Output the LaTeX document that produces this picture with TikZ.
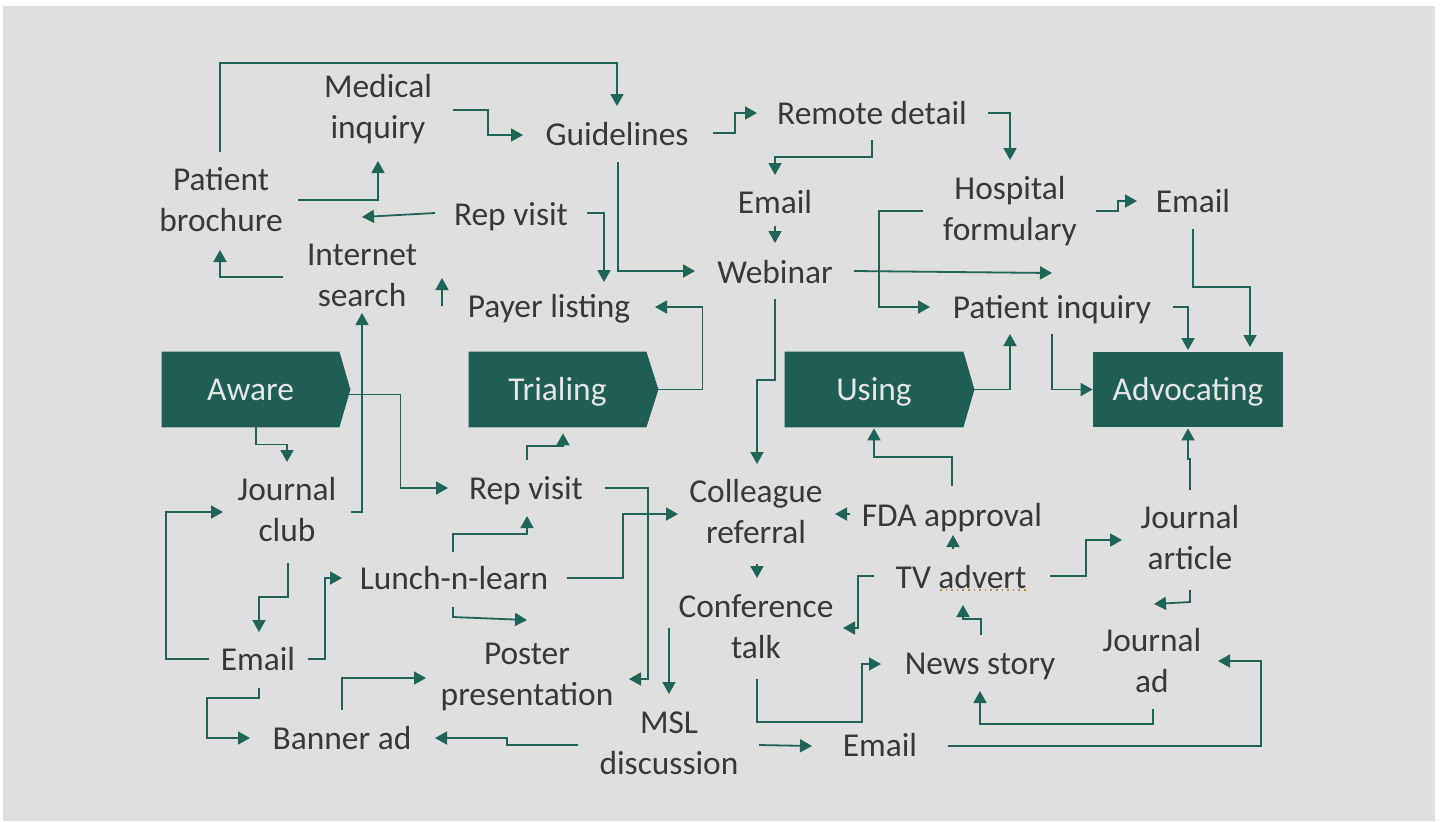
\documentclass[tikz,border=0pt]{standalone}
\usepackage{fontspec}
\setmainfont{Carlito}
\usetikzlibrary{arrows.meta,backgrounds}
\definecolor{pagegray}{HTML}{DFDFDF}
\definecolor{stagegreen}{HTML}{1F5E55}
\definecolor{linkgreen}{HTML}{1E6558}
\definecolor{inkgray}{HTML}{383838}
\definecolor{stageink}{HTML}{E6E6E6}
\definecolor{spellmark}{HTML}{B08A4A}

\begin{document}
\begin{tikzpicture}[x=0.5pt,y=-0.5pt,
  lbl/.style={text=inkgray, align=center, inner sep=0pt, font=\fontsize{16.7}{20.5}\selectfont},
  one/.style={lbl, text height=11pt, text depth=0pt},
  stage/.style={text=stageink, inner sep=0pt, minimum height=37.5pt, text height=11pt, text depth=0pt, font=\fontsize{16.7}{20.5}\selectfont},
  link/.style={draw=linkgreen, line width=0.9pt, -{Triangle[length=6pt,width=6.5pt]}},
]
\useasboundingbox (0,0) rectangle (1444,821);

% ---- stages of the journey
\node[stage, minimum width=88.5pt] (aware) at (250.5,389.5) {Aware};
\node[stage, minimum width=88.5pt] (trial) at (557.5,389.5) {Trialing};
\node[stage, minimum width=89pt]   (using) at (874,389.5)   {Using};
\node[stage, minimum width=95pt]   (advoc) at (1188,389.5)  {Advocating};

% ---- touchpoints, upper half
\node[lbl] (medinq)   at (378,109)  {Medical\\inquiry};
\node[one] (guid)     at (617,134)  {Guidelines};
\node[one] (remote)   at (872,113)  {Remote detail};
\node[lbl] (brochure) at (221,200)  {Patient\\brochure};
\node[one] (repA)     at (511,214)  {Rep visit};
\node[lbl] (search)   at (362,275)  {Internet\\search};
\node[one] (emailA)   at (775,202)  {Email};
\node[one] (webinar)  at (775,272)  {Webinar};
\node[lbl] (hosp)     at (1010,211) {Hospital\\formulary};
\node[one] (emailB)   at (1193,201) {Email};
\node[one] (payer)    at (549,306)  {Payer listing};
\node[one] (pinq)     at (1052,307) {Patient inquiry};

% ---- touchpoints, lower half
\node[lbl] (jclub)  at (287,510)  {Journal\\club};
\node[one] (repB)   at (526,488)  {Rep visit};
\node[lbl] (coll)   at (756,512)  {Colleague\\referral};
\node[one] (fda)    at (952,515)  {FDA approval};
\node[lbl] (jart)   at (1190,538) {Journal\\article};
\node[one] (lunch)  at (454,578)  {Lunch-n-learn};
\node[one] (tv)     at (961,577)  {TV advert};
\node[lbl] (conf)   at (756,627)  {Conference\\talk};
\node[one] (emailC) at (258,659)  {Email};
\node[lbl] (poster) at (527,677)  {Poster\\presentation};
\node[one] (news)   at (980,663)  {News story};
\node[lbl] (jad)    at (1152,661) {Journal\\ad};
\node[one] (banner) at (342,738)  {Banner ad};
\node[lbl] (msl)    at (669,743)  {MSL\\discussion};
\node[one] (emailD) at (880,745)  {Email};

% spell-check mark under "advert"
\draw[spellmark, line width=0.8pt, dotted] ([shift={(-21,13)}]tv.center) -- ([shift={(66,13)}]tv.center);

% ---- connectors, upper half
\draw[link] ([shift={(-1,-48)}]brochure.center) |- (617,63) -- ([shift={(0,-28)}]guid.center);
\draw[link] ([shift={(75,1)}]medinq.center) -- ++(35,0) |- ([shift={(-94,1)}]guid.center);
\draw[link] ([shift={(77,0)}]brochure.center) -| ([shift={(0,52)}]medinq.center);
\draw[link] ([shift={(-76,-1)}]repA.center) -- ([shift={(0,-58)}]search.center);
\draw[link] ([shift={(-79,2)}]search.center) -| ([shift={(-1,50)}]brochure.center);
\draw[link] ([shift={(-107,0)}]payer.center) -- ([shift={(80,3)}]search.center);
\draw[link] ([shift={(76,-1)}]repA.center) -| ([shift={(55,-24)}]payer.center);
\draw[link] ([shift={(1,28)}]guid.center) |- ([shift={(-80,-1)}]webinar.center);
\draw[link] ([shift={(96,-1)}]guid.center) -- ++(22,0) |- ([shift={(-115,0)}]remote.center);
\draw[link] ([shift={(0,27)}]remote.center) -- ++(0,17) -| ([shift={(0,-27)}]emailA.center);
\draw[link] ([shift={(0,24)}]emailA.center) -- ([shift={(0,-29)}]webinar.center);
\draw[link] ([shift={(116,0)}]remote.center) -| ([shift={(0,-51)}]hosp.center);
\draw[link] ([shift={(79,-1)}]webinar.center) -- ([shift={(0,-34)}]pinq.center);
\draw[link] ([shift={(-87,0)}]hosp.center) -- ++(-44,0) |- ([shift={(-122,0)}]pinq.center);
\draw[link] ([shift={(86,0)}]hosp.center) -- ++(22,0) |- ([shift={(-56,0)}]emailB.center);
\draw[link] ([shift={(0,28)}]emailB.center) -- ++(0,58) -| ([shift={(62,-42.5)}]advoc.center);
\draw[link] ([shift={(121,0)}]pinq.center) -| ([shift={(0,-39.5)}]advoc.center);
\draw[link] ([shift={(0,27)}]pinq.center) |- (advoc.west);
\draw[link] ([xshift=5.5pt]using.east) -| ([shift={(-42,27)}]pinq.center);
\draw[link] ([xshift=6pt]trial.east) -- ++(44,0) |- ([shift={(106,1)}]payer.center);
\draw[link] ([shift={(0,27)}]webinar.center) -- ++(0,81) -| ([shift={(1,-48)}]coll.center);

% ---- connectors, lower half
\draw[link] ([shift={(9,5)}]aware.east) -- ++(52,0) |- ([shift={(-78,0)}]repB.center);
\draw[link] ([shift={(64,2)}]jclub.center) -| ([shift={(0,38)}]search.center);
\draw[link] ([shift={(5.5,0)}]aware.south) -- ++(0,17) -| ([shift={(0,-48)}]jclub.center);
\draw[link] ([shift={(-49,0)}]emailC.center) -- ++(-43,0) |- ([shift={(-64,2)}]jclub.center);
\draw[link] ([shift={(1,53)}]jclub.center) -- ++(0,34) -| ([shift={(1,-27)}]emailC.center);
\draw[link] ([shift={(50,0)}]emailC.center) -- ++(17,0) |- ([shift={(-112,0)}]lunch.center);
\draw[link] ([shift={(1,29)}]emailC.center) -- ++(0,10) -- ++(-52,0) |- ([shift={(-92,0)}]banner.center);
\draw[link] ([shift={(0,-28)}]banner.center) |- ([shift={(-101,1)}]poster.center);
\draw[link] ([shift={(-91,2)}]msl.center) -- ++(-71,0) |- ([shift={(93,0)}]banner.center);
\draw[link] ([shift={(1,-28)}]repB.center) -- ++(0,-14) -| ([shift={(5.5,6)}]trial.south);
\draw[link] ([shift={(79,0)}]repB.center) -- ++(43,0) |- ([shift={(102,2)}]poster.center);
\draw[link] ([shift={(-1,-26)}]lunch.center) -- ++(0,-18) -| ([shift={(1,28)}]repB.center);
\draw[link] ([shift={(-1,29)}]lunch.center) -- ++(0,10) -- ([shift={(0,-57)}]poster.center);
\draw[link] ([shift={(113,0)}]lunch.center) -- ++(56,0) |- ([shift={(-78,2)}]coll.center);
\draw[link] ([shift={(1,52)}]coll.center) -- ([shift={(1,-49)}]conf.center);
\draw[link] ([shift={(-102,-1)}]fda.center) -- ([shift={(79,2)}]coll.center);
\draw[link] ([shift={(0,-29)}]fda.center) -- ++(0,-29) -| ([shift={(0,1)}]using.south);
\draw[link] ([shift={(-8,-28)}]tv.center) -- ([shift={(1,20)}]fda.center);
\draw[link] ([shift={(-87,-1)}]tv.center) -- ++(-16,0) |- ([shift={(87,1)}]conf.center);
\draw[link] ([shift={(89,-1)}]tv.center) -- ++(36,0) |- ([shift={(-68,2)}]jart.center);
\draw[link] ([shift={(1,-28)}]news.center) -- ++(0,-16) -| ([shift={(2,28)}]tv.center);
\draw[link] ([shift={(1,52)}]conf.center) -- ++(0,43) -- ++(105,0) |- ([shift={(-99,1)}]news.center);
\draw[link] ([shift={(-87,1)}]conf.center) -- ([shift={(0,-49)}]msl.center);
\draw[link] ([shift={(90,2)}]msl.center) -- ([shift={(-68,1)}]emailD.center);
\draw[link] ([shift={(68,1)}]emailD.center) -- ++(313,0) |- ([shift={(66,0)}]jad.center);
\draw[link] ([shift={(1,48)}]jad.center) -- ++(0,15) -| ([shift={(0,28)}]news.center);
\draw[link] ([shift={(0,52)}]jart.center) -- ++(0,12) -- ([shift={(2,-57)}]jad.center);
\draw[link] ([shift={(0,-48)}]jart.center) -- ++(0,-31) -| ([shift={(0,1)}]advoc.south);

% ---- page and stage shapes, behind everything
\begin{scope}[on background layer]
  \fill[white] (0,0) rectangle (1444,821);
  \fill[pagegray] (3,6) rectangle (1435,821);
  \fill[stagegreen] (aware.north west) -- (aware.north east) -- ([xshift=5.5pt]aware.east) -- (aware.south east) -- (aware.south west) -- cycle;
  \fill[stagegreen] (trial.north west) -- (trial.north east) -- ([xshift=6pt]trial.east) -- (trial.south east) -- (trial.south west) -- cycle;
  \fill[stagegreen] (using.north west) -- (using.north east) -- ([xshift=5.5pt]using.east) -- (using.south east) -- (using.south west) -- cycle;
  \fill[stagegreen] (advoc.north west) rectangle (advoc.south east);
\end{scope}
\end{tikzpicture}
\end{document}
